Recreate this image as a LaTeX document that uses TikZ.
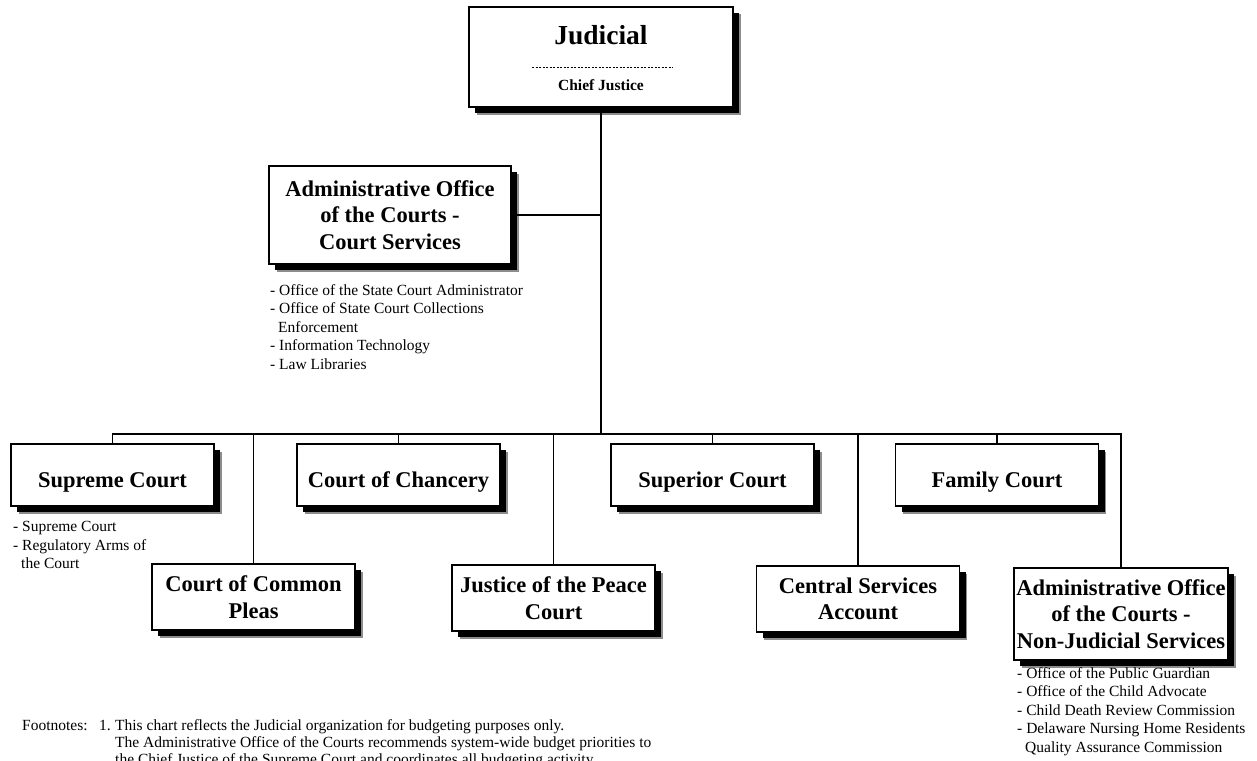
\documentclass[tikz,border=0pt]{standalone}
\usepackage{fontspec}
\setmainfont{Liberation Serif}
\usetikzlibrary{shadows}
\begin{document}
\begin{tikzpicture}[x=1pt,y=-1pt,
  box/.style={draw=black,line width=1.2pt,fill=white,rectangle,inner sep=0pt,align=center,
    general shadow={shadow xshift=7.5pt,shadow yshift=-7.5pt,fill=black!45},
    general shadow={shadow xshift=6pt,shadow yshift=-6pt,fill=black},
    font=\fontsize{22.5}{26.5}\selectfont\bfseries},
  one/.style={box,minimum width=203pt,minimum height=62pt,text height=24pt,text depth=0pt},
  two/.style={box,minimum width=203pt,minimum height=66pt},
  conn/.style={line width=1.2pt},
  trunk/.style={line width=2.2pt},
  list/.style={align=left,anchor=north west,inner sep=0pt,font=\fontsize{15.5}{18.6}\selectfont},
  foot/.style={inner sep=0pt,font=\fontsize{15.5}{17}\selectfont},
  ]
\useasboundingbox (0,0) rectangle (1257,760);
\fill[white] (0,0) rectangle (1257,760);

% top box
\node[box,minimum width=264pt,minimum height=100pt] (judicial) at (601,57) {};
\node[inner sep=0pt,anchor=base,font=\fontsize{27.5}{30}\selectfont\bfseries] (jtitle) at (601,45) {Judicial};
\node[inner sep=0pt,anchor=base,font=\fontsize{15.5}{18}\selectfont\bfseries] (chief) at (601,90) {Chief Justice};
\draw[line width=1pt,dash pattern=on 2.2pt off 1.3pt] (532,67) -- (673,67);

% court services
\node[box,minimum width=242pt,minimum height=98pt] (cs) at (390,215) {Administrative Office\\of the Courts -\\Court Services};
\node[list] (cslist) at (270,284) {- Office of the State Court Administrator\\- Office of State Court Collections\\\hspace*{8pt}Enforcement\\- Information Technology\\- Law Libraries};

% top row
\node[one] (supreme) at (112.5,475) {Supreme Court};
\node[one] (chancery) at (398.5,475) {Court of Chancery};
\node[one] (superior) at (712.5,475) {Superior Court};
\node[one] (family) at (997,475) {Family Court};
\node[list] (suplist) at (13,521) {- Supreme Court\\- Regulatory Arms of\\\hspace*{8pt}the Court};

% bottom row
\node[two] (pleas) at (253.5,597) {Court of Common\\Pleas};
\node[two] (jop) at (553.5,598) {Justice of the Peace\\Court};
\node[two] (central) at (858,599) {Central Services\\Account};
\node[box,minimum width=214pt,minimum height=92pt] (nonjud) at (1121,614) {Administrative Office\\of the Courts -\\Non-Judicial Services};
\node[list] (njlist) at (1017,667) {- Office of the Public Guardian\\- Office of the Child Advocate\\- Child Death Review Commission\\- Delaware Nursing Home Residents\\\hspace*{8pt}Quality Assurance Commission};

% connectors
\coordinate (bus) at (601,434);
\draw[trunk] (judicial.south) -- (bus);
\draw[conn] (cs.east) -- (cs.east -| judicial.south);
\draw[conn] (supreme.north) -- (supreme.north |- bus) -| (nonjud.north);
\draw[conn] (chancery.north) -- (chancery.north |- bus);
\draw[conn] (superior.north) -- (superior.north |- bus);
\draw[conn] (family.north) -- (family.north |- bus);
\draw[conn] (pleas.north) -- (pleas.north |- bus);
\draw[conn] (jop.north) -- (jop.north |- bus);
\draw[conn] (central.north) -- (central.north |- bus);

% footnotes
\node[foot,anchor=base west] (fnlabel) at (22,730) {Footnotes:};
\node[foot,anchor=base west] (fnnum) at (99,730) {1.};
\node[foot,anchor=north west,align=left] (fntext) at (115,719) {This chart reflects the Judicial organization for budgeting purposes only.\\The Administrative Office of the Courts recommends system-wide budget priorities to\\the Chief Justice of the Supreme Court and coordinates all budgeting activity};
\end{tikzpicture}
\end{document}
